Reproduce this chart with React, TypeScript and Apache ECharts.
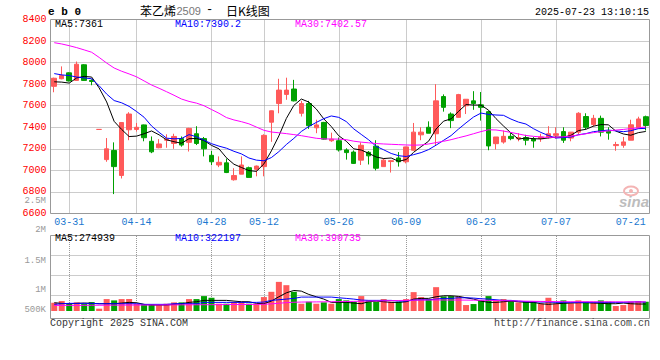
import React, { useEffect, useRef } from 'react';
import * as echarts from 'echarts';

// ---- data ----
const dates = ['03-27','03-28','03-31','04-01','04-02','04-03','04-07','04-08','04-09','04-10','04-11','04-14','04-15','04-16','04-17','04-18','04-21','04-22','04-23','04-24','04-25','04-28','04-29','04-30','05-06','05-07','05-08','05-09','05-12','05-13','05-14','05-15','05-16','05-19','05-20','05-21','05-22','05-23','05-26','05-27','05-28','05-29','05-30','06-03','06-04','06-05','06-06','06-09','06-10','06-11','06-12','06-13','06-16','06-17','06-18','06-19','06-20','06-23','06-24','06-25','06-26','06-27','06-30','07-01','07-02','07-03','07-04','07-07','07-08','07-09','07-10','07-11','07-14','07-15','07-16','07-17','07-18','07-21','07-22','07-23'];

const opens = [7780,7850,7905,7835,7980,7835,7380,7100,7185,6953,7377,7380,7422,7270,7210,7280,7250,7295,7260,7340,7295,7140,7050,7070,6913,6965,7025,7010,7035,7447,7620,7705,7755,7530,7620,7395,7445,7275,7275,7190,7170,7095,7168,7225,7035,7082,7115,7080,7187,7330,7400,7340,7685,7523,7492,7600,7645,7608,7545,7248,7263,7316,7292,7304,7292,7295,7310,7325,7360,7300,7355,7500,7425,7483,7362,7230,7233,7280,7392,7498];
const closes = [7855,7880,7830,7985,7835,7825,7380,7200,7035,7444,7523,7400,7303,7172,7245,7290,7315,7235,7390,7250,7200,7080,7075,6980,6952,7050,6935,7040,7325,7553,7745,7745,7645,7620,7415,7422,7290,7290,7190,7165,7065,7233,7135,7020,7095,7090,7080,7218,7355,7355,7345,7645,7585,7462,7703,7660,7620,7585,7227,7310,7316,7295,7304,7280,7273,7310,7340,7340,7280,7355,7530,7400,7483,7355,7346,7240,7264,7423,7477,7416];
const lows = [7725,7845,7825,7830,7830,7790,7380,7080,6780,6925,7280,7360,7270,7160,7205,7210,7200,7220,7175,7235,7130,7050,7030,6975,6905,6965,6935,6945,6945,7265,7530,7655,7640,7500,7385,7345,7285,7265,7175,7100,7060,7050,7055,7000,7035,6980,7035,7065,7185,7280,7345,7235,7545,7392,7490,7523,7562,7462,7187,7194,7248,7280,7270,7233,7210,7265,7295,7295,7255,7270,7335,7380,7407,7315,7285,7182,7210,7280,7385,7370];
const highs = [7860,7965,7910,8010,7985,7845,7380,7300,7260,7445,7540,7440,7425,7315,7290,7335,7340,7315,7395,7410,7310,7180,7130,7110,7020,7130,7035,7045,7335,7555,7850,7860,7840,7645,7645,7470,7450,7350,7305,7205,7185,7260,7180,7280,7110,7095,7170,7220,7440,7400,7455,7800,7705,7538,7710,7660,7735,7727,7553,7310,7370,7355,7346,7330,7310,7340,7410,7400,7400,7355,7540,7530,7515,7508,7400,7265,7310,7470,7498,7508];

const ma5 = [7822,7819,7810,7858,7872,7866,7765,7635,7455,7380,7314,7318,7340,7366,7330,7284,7266,7252,7294,7296,7278,7232,7200,7117,7057,7027,6998,6991,7060,7181,7320,7482,7603,7662,7634,7569,7478,7407,7321,7271,7200,7189,7158,7124,7110,7115,7084,7101,7168,7220,7271,7384,7457,7478,7548,7611,7606,7606,7559,7480,7412,7347,7290,7301,7294,7292,7301,7309,7309,7325,7369,7381,7410,7425,7423,7365,7338,7326,7350,7361];
const ma10 = [7898,7886,7880,7866,7858,7850,7785,7708,7648,7627,7594,7546,7493,7412,7353,7299,7293,7296,7332,7312,7280,7248,7225,7206,7177,7153,7115,7095,7089,7119,7174,7240,7297,7361,7407,7445,7480,7505,7492,7453,7385,7334,7283,7223,7191,7157,7136,7129,7146,7165,7193,7234,7279,7323,7384,7441,7495,7532,7519,7514,7511,7476,7448,7430,7387,7352,7324,7300,7305,7309,7331,7341,7359,7367,7374,7367,7359,7368,7387,7390];
const ma30 = [8185,8173,8157,8139,8118,8096,8048,7996,7950,7920,7895,7868,7830,7792,7762,7730,7697,7662,7640,7624,7600,7565,7530,7490,7468,7452,7432,7402,7372,7356,7349,7341,7332,7322,7310,7298,7292,7291,7290,7285,7271,7262,7256,7249,7245,7242,7239,7236,7234,7236,7245,7258,7270,7285,7303,7320,7340,7360,7377,7375,7365,7352,7338,7324,7316,7310,7306,7308,7312,7318,7328,7340,7350,7360,7366,7374,7380,7388,7395,7403];

const volumes = [308000,350000,283000,317000,275000,325000,158000,400000,367000,400000,400000,283000,267000,267000,250000,283000,317000,317000,400000,400000,475000,433000,283000,283000,325000,333000,283000,283000,450000,583000,833000,750000,583000,283000,333000,283000,317000,283000,400000,367000,333000,475000,367000,333000,400000,333000,333000,400000,575000,450000,400000,700000,467000,475000,467000,250000,275000,367000,475000,350000,400000,367000,317000,333000,333000,283000,433000,283000,367000,292000,367000,333000,333000,367000,333000,225000,250000,333000,350000,333000];
const volMa5 = [308000,292000,283000,292000,300000,292000,283000,283000,283000,300000,317000,308000,267000,250000,250000,250000,267000,283000,317000,333000,367000,367000,367000,367000,350000,333000,333000,292000,283000,350000,458000,558000,617000,600000,517000,458000,400000,317000,317000,317000,300000,283000,333000,350000,333000,317000,317000,333000,400000,417000,417000,458000,483000,483000,467000,433000,400000,350000,317000,317000,333000,350000,333000,317000,317000,283000,267000,283000,292000,300000,308000,308000,300000,292000,283000,283000,300000,283000,275000,275000];
const volMa10 = [267000,283000,292000,292000,292000,292000,283000,283000,283000,283000,283000,283000,267000,267000,267000,267000,283000,283000,283000,283000,317000,317000,317000,317000,317000,317000,317000,317000,325000,367000,383000,400000,417000,450000,450000,450000,450000,450000,433000,417000,400000,375000,367000,367000,367000,367000,350000,350000,375000,383000,383000,400000,417000,417000,433000,433000,425000,408000,400000,383000,367000,367000,350000,333000,333000,325000,325000,317000,317000,317000,317000,317000,317000,317000,317000,317000,317000,325000,330000,322000];
const volMa30 = [240000,241000,242000,242000,243000,244000,245000,246000,247000,248000,249000,250000,250000,251000,252000,253000,254000,255000,256000,257000,258000,259000,260000,262000,263000,264000,265000,267000,270000,280000,295000,310000,320000,325000,327000,329000,331000,333000,336000,339000,342000,346000,350000,353000,356000,360000,364000,368000,372000,375000,376000,377000,377000,376000,375000,374000,372000,370000,367000,364000,360000,356000,352000,348000,344000,341000,338000,336000,334000,333000,333000,333000,332000,332000,331000,331000,330000,330000,329000,329000];

const dateLabels = ['03-31','04-14','04-28','05-12','05-26','06-09','06-23','07-07','07-21'];
const gridDates = ['03-31','04-14','04-28','05-12','05-26','06-09','06-23','07-07'];
const volGridValues = [500000, 1000000, 1500000];
const volTickLabels = ['2.5M','2M','1.5M','1M','500K'];
const priceLegend = ['MA5:7361','MA10:7390.2','MA30:7402.57'];
const volLegend = ['MA5:274939','MA10:322197','MA30:390735'];

// ---- styles ----
const UP = '#ff5a5a';
const DOWN = '#00a000';
const MA_COLORS = ['#000000', '#0000ff', '#ff00ff'];
const MONO = '"Liberation Mono", "DejaVu Sans Mono", monospace';
const GRID_LINE = { color: '#999', type: [1, 1] as any, width: 1 };

const txt = (text: string, x: number, y: number, fill: string, font = `10px ${MONO}`, align = 'left') => ({
  type: 'text', x, y, silent: true, z: 20,
  style: { text, fill, font, textAlign: align, textVerticalAlign: 'middle' },
});

export default function App() {
  const ref = useRef<HTMLDivElement>(null);

  useEffect(() => {
    if (!ref.current) return;
    const chart = echarts.init(ref.current, null, { renderer: 'svg' });

    const candleData = dates.map((_, i) => {
      const item: any = { value: [opens[i], closes[i], lows[i], highs[i]] };
      if (opens[i] === closes[i]) item.itemStyle = { color0: UP, borderColor0: UP };
      return item;
    });
    const volData = volumes.map((v, i) => ({
      value: v,
      itemStyle: { color: closes[i] >= opens[i] ? UP : DOWN },
    }));

    const maLine = (name: string, data: number[], color: string, idx: number) => ({
      name, type: 'line', xAxisIndex: idx, yAxisIndex: idx, data,
      symbol: 'none', showSymbol: false, smooth: false, silent: true,
      lineStyle: { width: 1, color }, itemStyle: { color }, z: 3,
    });

    const legendX = [55, 175, 295];
    const volLabelY = [200.7, 230.3, 261, 290.3, 310.3];

    const option: any = {
      animation: false,
      backgroundColor: '#ffffff',
      textStyle: { fontFamily: MONO },
      grid: [
        { left: 50.5, top: 19.5, width: 599, height: 194, show: true, borderColor: '#999', borderWidth: 1, backgroundColor: 'transparent' },
        { left: 50.5, top: 235.5, width: 599, height: 75.5, show: false },
      ],
      xAxis: [
        {
          type: 'category', gridIndex: 0, data: dates, boundaryGap: true,
          axisLine: { show: false }, axisTick: { show: false }, splitLine: { show: false },
          axisLabel: {
            interval: (_i: number, v: string) => dateLabels.includes(v),
            color: '#1a78d0', fontSize: 10, fontFamily: MONO, margin: 4,
          },
        },
        {
          type: 'category', gridIndex: 1, data: dates, boundaryGap: true,
          axisLine: { show: false }, axisTick: { show: false }, splitLine: { show: false },
          axisLabel: { show: false },
        },
      ],
      yAxis: [
        {
          type: 'value', gridIndex: 0, min: 6600, max: 8400, interval: 200, scale: true,
          axisLine: { show: false }, axisTick: { show: false },
          axisLabel: {
            color: '#ff0000', fontSize: 10, fontFamily: MONO, margin: 4, padding: [0, 0, 4, 0],
            lineHeight: 9,
            formatter: (v: number) => String(v),
          },
          splitLine: { show: true, showMinLine: false, showMaxLine: false, lineStyle: GRID_LINE },
        },
        {
          type: 'value', gridIndex: 1, min: 100000, max: 2000000,
          axisLine: { show: false }, axisTick: { show: false },
          axisLabel: { show: false }, splitLine: { show: false },
        },
      ],
      series: [
        {
          name: 'K', type: 'candlestick', xAxisIndex: 0, yAxisIndex: 0, data: candleData,
          barWidth: 5, silent: true, z: 2,
          itemStyle: { color: UP, color0: DOWN, borderColor: UP, borderColor0: DOWN, borderWidth: 1 },
          markLine: {
            silent: true, symbol: ['none', 'none'], z: 1,
            label: { show: false }, lineStyle: GRID_LINE,
            emphasis: { disabled: true },
            data: gridDates.map((d) => ({ xAxis: d })),
          },
        },
        maLine('MA5', ma5, MA_COLORS[0], 0),
        maLine('MA10', ma10, MA_COLORS[1], 0),
        maLine('MA30', ma30, MA_COLORS[2], 0),
        {
          name: 'VOL', type: 'bar', xAxisIndex: 1, yAxisIndex: 1, data: volData,
          barWidth: 6, silent: true, clip: true, z: 2,
          markLine: {
            silent: true, symbol: ['none', 'none'], z: 1,
            label: { show: false }, lineStyle: GRID_LINE,
            emphasis: { disabled: true },
            data: [
              ...gridDates.map((d) => ({ xAxis: d })),
              ...volGridValues.map((v) => ({ yAxis: v })),
            ],
          },
        },
        maLine('VMA5', volMa5, MA_COLORS[0], 1),
        maLine('VMA10', volMa10, MA_COLORS[1], 1),
        maLine('VMA30', volMa30, MA_COLORS[2], 1),
      ],
      graphic: [
        {
          type: 'rect', silent: true, z: 5,
          shape: { x: 50.5, y: 235.5, width: 599, height: 83 },
          style: { fill: 'none', stroke: '#999', lineWidth: 1 },
        },
        txt('e b 0', 48, 12, '#000', `bold 11px ${MONO}`),
        txt('苯乙烯', 140, 10, '#000', '12px "Noto Sans CJK SC", sans-serif'),
        txt('2509', 176.5, 10.5, '#777', '11px "Liberation Sans", sans-serif'),
        txt('- ', 206, 10, '#000', `12px ${MONO}`),
        txt('日K线图', 226, 10, '#000', '12px "Noto Sans CJK SC", sans-serif'),
        txt('2025-07-23 13:10:15', 649, 12, '#000', `10px ${MONO}`, 'right'),
        ...priceLegend.map((t, i) => txt(t, legendX[i], 24, MA_COLORS[i])),
        ...volLegend.map((t, i) => txt(t, legendX[i], 238.5, MA_COLORS[i])),
        ...volTickLabels.map((t, i) => txt(t, 46, volLabelY[i], '#999', `9px ${MONO}`, 'right')),
        txt('Copyright 2025 SINA.COM', 50, 323.5, '#333'),
        txt('http://finance.sina.com.cn', 650, 323.5, '#444', `10px ${MONO}`, 'right'),
        {
          type: 'ellipse', silent: true, z: 1,
          shape: { cx: 631, cy: 191, rx: 7, ry: 4.5 },
          style: { fill: 'none', stroke: '#f4b4b4', lineWidth: 2 },
        },
        {
          type: 'circle', silent: true, z: 1,
          shape: { cx: 631, cy: 191, r: 2 },
          style: { fill: '#f4b4b4' },
        },
        txt('sina', 619, 201, '#bdbdbd', 'italic bold 15px "Liberation Sans", sans-serif'),
      ],
    };

    chart.setOption(option);
    return () => chart.dispose();
  }, []);

  return <div ref={ref} style={{ position: 'absolute', left: 0, top: 0, width: 660, height: 360 }} />;
}
